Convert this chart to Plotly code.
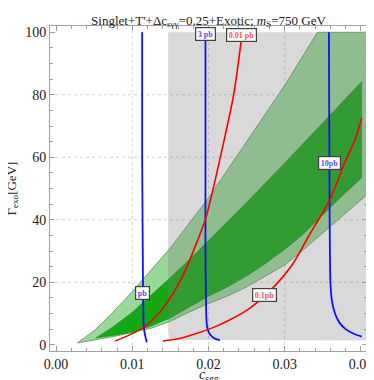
import plotly.graph_objects as go

# ---- data ----
x_ticks = [0.00, 0.01, 0.02, 0.03, 0.04]
x_tick_text = ["0.00", "0.01", "0.02", "0.03", "0.04"]
y_ticks = [0, 20, 40, 60, 80, 100]
grid_x = [0.01, 0.02, 0.03]
grid_y = [20, 40, 60, 80]

# outer (2 sigma) band
outer_up_x = [0.0028, 0.005, 0.0075, 0.010, 0.0125, 0.015, 0.020, 0.025, 0.030, 0.0343, 0.0408]
outer_up_y = [0.6, 4.5, 10.5, 17, 24, 31, 47, 65, 83, 100, 100]
outer_lo_x = [0.0028, 0.005, 0.0075, 0.010, 0.0125, 0.015, 0.0175, 0.020, 0.0225, 0.025,
              0.0275, 0.030, 0.0325, 0.035, 0.0375, 0.0408]
outer_lo_y = [0.6, 1.5, 2.6, 3.9, 5.3, 7.5, 10.5, 13.2, 15.6, 18.5, 22, 25.5, 30.5, 35.5, 41, 48]

# inner (1 sigma) band
dark_up_x = [0.0052, 0.0075, 0.010, 0.0125, 0.015, 0.0175, 0.020, 0.025, 0.030, 0.035, 0.0401]
dark_up_y = [2.2, 5.8, 10.4, 15.8, 21.5, 27.3, 33.3, 45.5, 58.2, 71, 84.2]
dark_lo_x = [0.0052, 0.0075, 0.010, 0.0125, 0.015, 0.0175, 0.020, 0.0225, 0.025, 0.0275,
             0.030, 0.0325, 0.035, 0.0375, 0.0401]
dark_lo_y = [2.2, 3.0, 4.0, 6.0, 8.6, 12.0, 15.5, 18.5, 22, 26, 30.5, 35.5, 41.5, 47.5, 53.4]

# excluded (gray) region
gray_x = [0.0147, 0.0147, 0.0148, 0.0151, 0.0157, 0.0408, 0.0408, 0.0147]
gray_y = [100, 4.5, 2.6, 1.8, 1.5, 1.4, 100, 100]

# blue cross-section contours
blue1_x = [0.0113, 0.0113, 0.0114, 0.01145, 0.0115, 0.0116, 0.0117, 0.0118, 0.0119]
blue1_y = [100, 60, 20, 10, 6, 4, 2.8, 1.8, 0.8]
blue2_x = [0.0196, 0.0196, 0.0197, 0.0198, 0.0200, 0.0203, 0.0207, 0.0211, 0.0215]
blue2_y = [100, 30, 10, 6, 4.2, 3.0, 2.2, 1.7, 1.4]
blue3_x = [0.0358, 0.0359, 0.0360, 0.0362, 0.0366, 0.0372, 0.0380, 0.0390, 0.0401]
blue3_y = [100, 40, 20, 14, 10, 7, 5, 3.6, 2.6]

# red cross-section contours
red1_x = [0.00775, 0.0095, 0.0114, 0.0130, 0.0144, 0.0165, 0.0187, 0.0197, 0.0221, 0.0233, 0.0243]
red1_y = [1.2, 3.0, 5.4, 8.8, 12.9, 21.4, 34.2, 41, 66, 80, 97.5]
red2_x = [0.0140, 0.0160, 0.0183, 0.0205, 0.0225, 0.025, 0.0275, 0.0295, 0.0311, 0.03325,
          0.03582, 0.03796, 0.0393, 0.0401]
red2_y = [1.2, 1.9, 3.5, 5.4, 7.6, 11.0, 15.9, 21, 26, 35.2, 45.9, 58.7, 66.1, 72.5]

# contour labels
label_text = ["pb", "3 pb", "10pb", "0.01 pb", "0.1pb"]
label_x = [0.0114, 0.01967, 0.0359, 0.0243, 0.02735]
label_y = [16.6, 99.3, 58.3, 99.2, 15.9]
label_color = ["#5050ff", "#5050ff", "#5050ff", "#ff5050", "#ff5050"]

SERIF = "Liberation Serif"

fig = go.Figure()

# outer band
fig.add_trace(go.Scatter(
    x=outer_up_x + outer_lo_x[::-1], y=outer_up_y + outer_lo_y[::-1],
    fill="toself", fillcolor="#98d898", mode="lines",
    line=dict(color="rgba(90,125,90,0.9)", width=0.8), hoverinfo="skip", showlegend=False))
# inner band
fig.add_trace(go.Scatter(
    x=dark_up_x + dark_lo_x[::-1], y=dark_up_y + dark_lo_y[::-1],
    fill="toself", fillcolor="rgb(20,168,20)", mode="lines",
    line=dict(color="rgba(40,110,40,0.8)", width=0.6), hoverinfo="skip", showlegend=False))
# gray overlay
fig.add_trace(go.Scatter(
    x=gray_x, y=gray_y, fill="toself", fillcolor="rgba(124,124,124,0.29)",
    mode="lines", line=dict(width=0, color="rgba(0,0,0,0)"), hoverinfo="skip", showlegend=False))

for bx, by in [(blue1_x, blue1_y), (blue2_x, blue2_y), (blue3_x, blue3_y)]:
    fig.add_trace(go.Scatter(x=bx, y=by, mode="lines",
                             line=dict(color="#1010ff", width=1.8, shape="spline", smoothing=0.6),
                             hoverinfo="skip", showlegend=False))
for rx, ry in [(red1_x, red1_y), (red2_x, red2_y)]:
    fig.add_trace(go.Scatter(x=rx, y=ry, mode="lines",
                             line=dict(color="#ff0000", width=1.6, shape="spline", smoothing=0.8),
                             hoverinfo="skip", showlegend=False))

for t, lx, ly, c in zip(label_text, label_x, label_y, label_color):
    fig.add_annotation(x=lx, y=ly, xref="x", yref="y", text="<b>" + t + "</b>",
                       showarrow=False, bgcolor="white", bordercolor="#404040",
                       borderwidth=1.2, borderpad=1.5,
                       font=dict(family=SERIF, size=8, color=c))

# dashed grid lines
for gx in grid_x:
    fig.add_shape(type="line", xref="x", yref="paper", x0=gx, x1=gx, y0=0, y1=1,
                  line=dict(color="#d2d2d2", width=1, dash="3px,3px"), layer="below")
for gy in grid_y:
    fig.add_shape(type="line", xref="paper", yref="y", x0=0, x1=1, y0=gy, y1=gy,
                  line=dict(color="#d2d2d2", width=1, dash="3px,3px"), layer="below")

# axis titles
fig.add_annotation(xref="paper", yref="paper", x=0.5, y=0, yanchor="middle",
                   yshift=-24, showarrow=False,
                   text="<i>c</i><sub>sgg</sub>",
                   font=dict(family=SERIF, size=14, color="#222"))
fig.add_annotation(xref="paper", yref="paper", x=0, y=0.5, xanchor="center",
                   xshift=-38, showarrow=False, textangle=-90,
                   text="Γ<sub>exo</sub>[GeV]",
                   font=dict(family=SERIF, size=13, color="#222"))

axis_common = dict(showgrid=False, zeroline=False, showline=True, mirror="allticks",
                   linecolor="#a0a0a0", linewidth=1, ticks="inside", ticklen=5,
                   tickcolor="#a0a0a0", tickwidth=1,
                   tickfont=dict(family=SERIF, size=14, color="#222"))

fig.update_xaxes(range=[-0.0008, 0.0408], tickvals=x_ticks, ticktext=x_tick_text,
                 minor=dict(dtick=0.002, ticks="inside", ticklen=3, tickcolor="#a0a0a0",
                            showgrid=False),
                 **axis_common)
fig.update_yaxes(range=[-2, 102], tickvals=y_ticks,
                 minor=dict(dtick=5, ticks="inside", ticklen=3, tickcolor="#a0a0a0",
                            showgrid=False),
                 **axis_common)

fig.update_layout(
    width=374, height=380,
    margin=dict(l=42, r=9, t=18, b=37),
    paper_bgcolor="white", plot_bgcolor="white",
    title=dict(text="Singlet+T'+Δc<sub>sγγ</sub>=0.25+Exotic; <i>m</i><sub>S</sub>=750 GeV",
               x=0.5, xref="paper", y=1 - 12 / 380, yref="container", yanchor="middle",
               font=dict(family=SERIF, size=13, color="#222")),
)

fig.write_html("out.html")
